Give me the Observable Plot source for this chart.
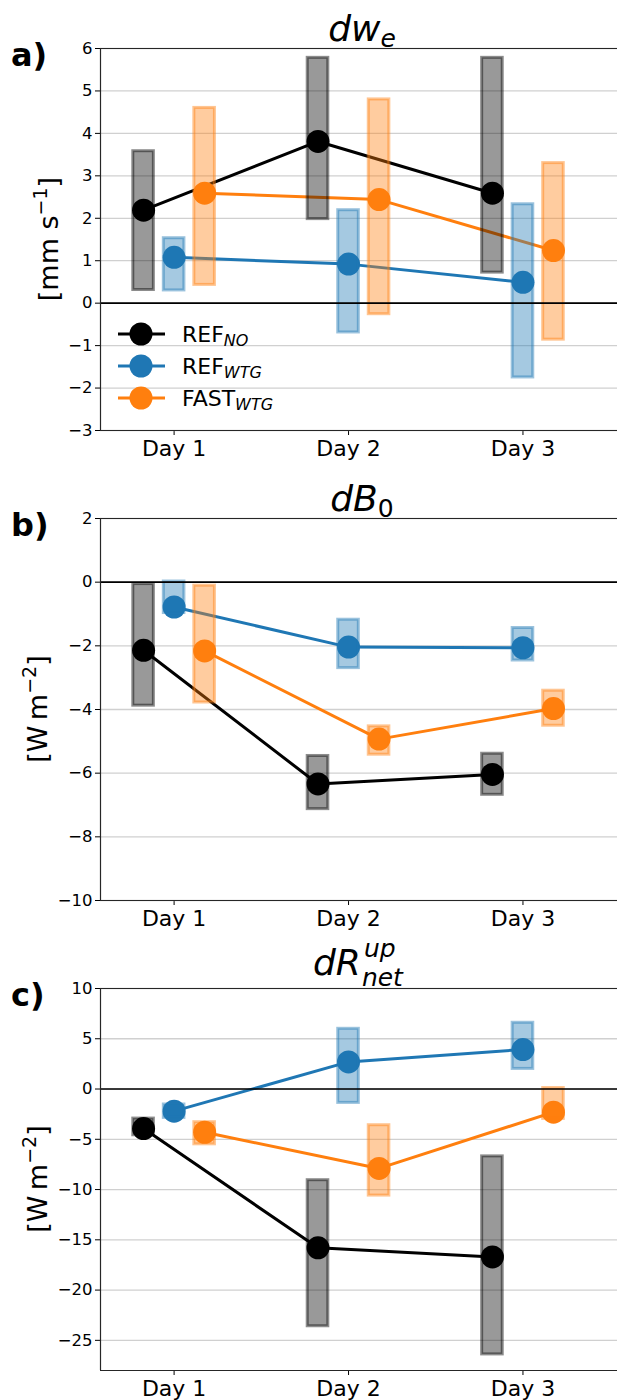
<!DOCTYPE html>
<html><head><meta charset="utf-8">
<script src="https://cdn.jsdelivr.net/npm/d3@7"></script>
<script src="https://cdn.jsdelivr.net/npm/@observablehq/plot@0.6"></script>
<style>
body{margin:0;background:#fff;font-family:"DejaVu Sans",sans-serif;}
#root{width:617px;}
.panel{position:relative;width:617px;height:470px;}
.panel svg{display:block;}
</style></head><body><div id="root"></div>
<script>
// ---- shared categories ----
const days = [1, 2, 3];
const dayLabels = ["Day 1", "Day 2", "Day 3"];
const seriesNames = ["REF", "REF", "FAST"];
const seriesSubs = ["NO", "WTG", "WTG"];
const colors = ["#000000", "#1f77b4", "#ff7f0e"];

// ---- panel a: dw_e [mm s-1] ----
const a_REFNO_mean = [2.19, 3.81, 2.59];
const a_REFNO_lo   = [0.31, 1.98, 0.72];
const a_REFNO_hi   = [3.58, 5.78, 5.78];
const a_REFWTG_mean = [1.08, 0.92, 0.49];
const a_REFWTG_lo   = [0.30, -0.69, -1.75];
const a_REFWTG_hi   = [1.53, 2.19, 2.33];
const a_FASTWTG_mean = [2.59, 2.44, 1.24];
const a_FASTWTG_lo   = [0.43, -0.26, -0.86];
const a_FASTWTG_hi   = [4.60, 4.80, 3.30];
const a_yTicks = [-3, -2, -1, 0, 1, 2, 3, 4, 5, 6];

// ---- panel b: dB_0 [W m-2] ----
const b_REFNO_mean = [-2.14, -6.34, -6.04];
const b_REFNO_lo   = [-3.88, -7.13, -6.68];
const b_REFNO_hi   = [-0.06, -5.46, -5.39];
const b_REFWTG_mean = [-0.78, -2.04, -2.06];
const b_REFWTG_lo   = [-0.97, -2.70, -2.46];
const b_REFWTG_hi   = [0.02, -1.18, -1.44];
const b_FASTWTG_mean = [-2.16, -4.93, -3.97];
const b_FASTWTG_lo   = [-3.78, -5.42, -4.51];
const b_FASTWTG_hi   = [-0.11, -4.53, -3.41];
const b_yTicks = [-10, -8, -6, -4, -2, 0, 2];

// ---- panel c: dR_net^up [W m-2] ----
const c_REFNO_mean = [-3.93, -15.8, -16.7];
const c_REFNO_lo   = [-4.6, -23.6, -26.4];
const c_REFNO_hi   = [-2.94, -9.07, -6.7];
const c_REFWTG_mean = [-2.2, 2.70, 3.93];
const c_REFWTG_lo   = [-2.87, -1.38, 2.0];
const c_REFWTG_hi   = [-1.54, 5.99, 6.59];
const c_FASTWTG_mean = [-4.3, -7.9, -2.3];
const c_FASTWTG_lo   = [-5.5, -10.6, -2.97];
const c_FASTWTG_hi   = [-3.3, -3.6, 0.1];
const c_yTicks = [-25, -20, -15, -10, -5, 0, 5, 10];

// ---- layout ----
const xDomain = [0.578, 3.542];
const offsets = [-0.175, 0, 0.175];
const barHalf = 0.059;
const W = 617, H = 470;
const SVGNS = "http://www.w3.org/2000/svg";

function rowsFor(mean, lo, hi, k) {
  return days.map((d, j) => ({x: d + offsets[k], m: mean[j], lo: lo[j], hi: hi[j]}));
}

function el(parent, tag, attrs, text) {
  const e = document.createElementNS(SVGNS, tag);
  for (const k in attrs) e.setAttribute(k, attrs[k]);
  if (text != null) e.textContent = text;
  parent.appendChild(e);
  return e;
}

function makePanel(cfg) {
  const seriesRows = cfg.series.map((s, k) => rowsFor(s[0], s[1], s[2], k));
  const yDomain = [cfg.yMin, cfg.yMax];
  const marks = [
    Plot.ruleY(cfg.yTicks, {stroke: "#b0b0b0", strokeOpacity: 0.6, strokeWidth: 1.3})
  ];
  seriesRows.forEach((rows, k) => {
    marks.push(Plot.line(rows, {x: "x", y: "m", stroke: colors[k], strokeWidth: 3}));
    marks.push(Plot.dot(rows, {x: "x", y: "m", fill: colors[k], r: 11.5}));
  });
  seriesRows.forEach((rows, k) => {
    marks.push(Plot.rect(rows, {
      x1: d => d.x - barHalf, x2: d => d.x + barHalf, y1: "lo", y2: "hi",
      fill: colors[k], fillOpacity: 0.4, stroke: colors[k], strokeOpacity: 0.45, strokeWidth: 3
    }));
  });
  marks.push(Plot.ruleY([0], {stroke: "#000", strokeWidth: 1.6}));
  marks.push(Plot.ruleY(yDomain, {stroke: "#262626", strokeWidth: 1.2}));
  marks.push(Plot.ruleX([xDomain[0]], {stroke: "#262626", strokeWidth: 1.2}));

  const svg = Plot.plot({
    width: W, height: H,
    marginLeft: 100, marginRight: 0, marginTop: 48, marginBottom: 40,
    style: {fontFamily: "'DejaVu Sans', sans-serif", fontSize: "16px", color: "#000", background: "#fff", overflow: "visible"},
    x: {domain: xDomain, ticks: days, tickFormat: d => dayLabels[d - 1], label: null, tickSize: 5, tickPadding: 5},
    y: {domain: yDomain, ticks: cfg.yTicks, tickFormat: d => d3.format("d")(d).replace("-", "\u2212"), label: null, tickSize: 5, tickPadding: 3},
    marks
  });
  const div = document.createElement("div");
  div.className = "panel";
  div.appendChild(svg);
  document.getElementById("root").appendChild(div);

  // tick label sizes
  d3.select(svg).selectAll("text").each(function() {
    const s = this.textContent;
    if (s.startsWith("Day")) { this.style.fontSize = "22px"; }
    else { this.style.fontSize = "16.5px"; }
  });

  // panel letter
  el(svg, "text", {x: 11, y: 66, "font-size": 32, "font-weight": "bold", fill: "#000", "text-anchor": "start"}, cfg.letter);

  // y label
  const yl = el(svg, "text", {transform: `translate(${cfg.ylabelX},239) rotate(-90)`, "text-anchor": "middle", "font-size": 27, fill: "#000"});
  yl.appendChild(document.createTextNode(cfg.ylabel[0]));
  el(yl, "tspan", {dy: -11, "font-size": 19}, cfg.ylabel[1]);
  el(yl, "tspan", {dy: 11}, cfg.ylabel[2]);

  cfg.title(svg);
  return svg;
}

function titleSimple(main, sub, subItalic) {
  return svg => {
    const t = el(svg, "text", {x: 362, y: 41, "text-anchor": "middle", "font-size": 36, fill: "#000"});
    el(t, "tspan", {"font-style": "italic"}, main);
    el(t, "tspan", {dy: 6, "font-size": 25, "font-style": subItalic ? "italic" : "normal"}, sub);
  };
}

function titleSupSub(main, sup, sub) {
  return svg => {
    const x0 = 313;
    const t = el(svg, "text", {x: x0, y: 35, "font-size": 36, "font-style": "italic", fill: "#000", "text-anchor": "start"}, main);
    const w = t.getComputedTextLength();
    el(svg, "text", {x: x0 + w + 3, y: 17, "font-size": 25, "font-style": "italic", fill: "#000", "text-anchor": "start"}, sup);
    el(svg, "text", {x: x0 + w + 1, y: 46, "font-size": 25, "font-style": "italic", fill: "#000", "text-anchor": "start"}, sub);
  };
}

// Panel a
const svgA = makePanel({
  letter: "a)", yMin: -3, yMax: 6, yTicks: a_yTicks, ylabelX: 58,
  ylabel: ["[mm s", "\u22121", "]"],
  series: [[a_REFNO_mean, a_REFNO_lo, a_REFNO_hi], [a_REFWTG_mean, a_REFWTG_lo, a_REFWTG_hi], [a_FASTWTG_mean, a_FASTWTG_lo, a_FASTWTG_hi]],
  title: titleSimple("dw", "e", true)
});
// Panel b
makePanel({
  letter: "b)", yMin: -10, yMax: 2, yTicks: b_yTicks, ylabelX: 47,
  ylabel: ["[W\u2009m", "\u22122", "]"],
  series: [[b_REFNO_mean, b_REFNO_lo, b_REFNO_hi], [b_REFWTG_mean, b_REFWTG_lo, b_REFWTG_hi], [b_FASTWTG_mean, b_FASTWTG_lo, b_FASTWTG_hi]],
  title: titleSimple("dB", "0", false)
});
// Panel c
makePanel({
  letter: "c)", yMin: -28, yMax: 10, yTicks: c_yTicks, ylabelX: 47,
  ylabel: ["[W\u2009m", "\u22122", "]"],
  series: [[c_REFNO_mean, c_REFNO_lo, c_REFNO_hi], [c_REFWTG_mean, c_REFWTG_lo, c_REFWTG_hi], [c_FASTWTG_mean, c_FASTWTG_lo, c_FASTWTG_hi]],
  title: titleSupSub("dR", "up", "net")
});

// Legend inside panel a
seriesNames.forEach((name, k) => {
  const y = 334 + 32 * k;
  el(svgA, "line", {x1: 118, x2: 165, y1: y, y2: y, stroke: colors[k], "stroke-width": 3});
  el(svgA, "circle", {cx: 141, cy: y, r: 11.5, fill: colors[k]});
  const t = el(svgA, "text", {x: 182, y: y + 8, "font-size": 22, fill: "#000", "text-anchor": "start"}, name);
  el(t, "tspan", {dy: 4, "font-size": 16, "font-style": "italic"}, seriesSubs[k]);
});
</script></body></html>
